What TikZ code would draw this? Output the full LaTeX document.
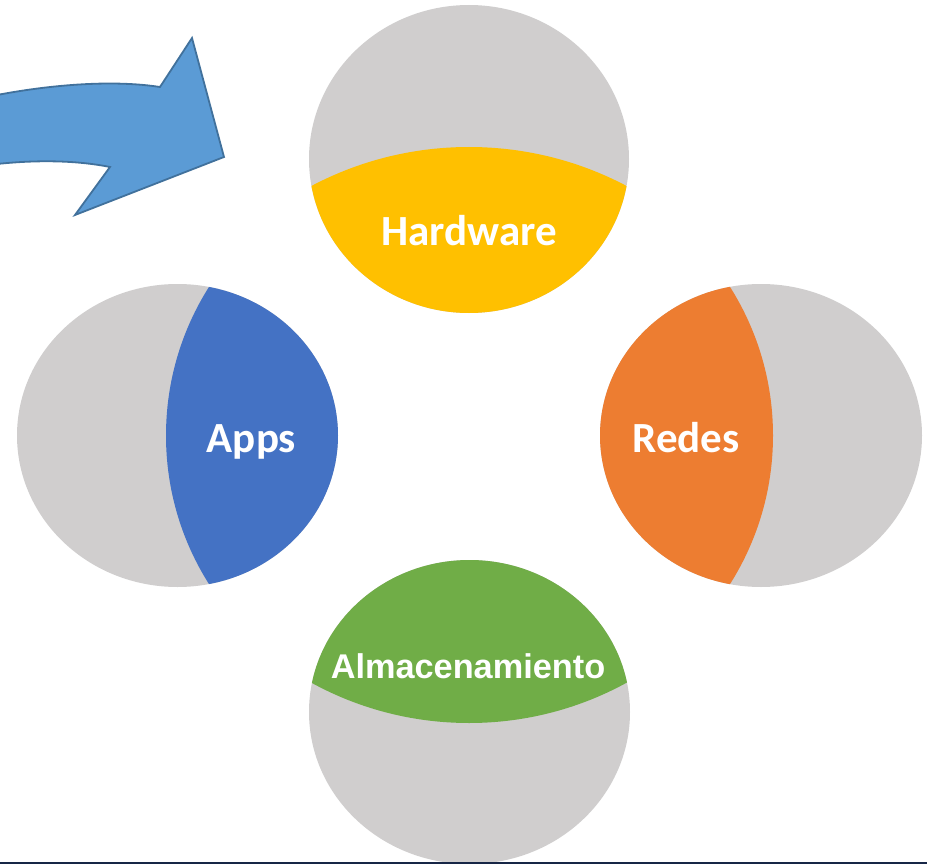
\documentclass[tikz,border=0pt]{standalone}
\usepackage{fontspec}
\newfontfamily\carlito{Carlito}
\newfontfamily\arialfont{Liberation Sans}
\definecolor{cgray}{HTML}{D0CECE}
\definecolor{cyellow}{HTML}{FFC000}
\definecolor{cblue}{HTML}{4472C4}
\definecolor{corange}{HTML}{ED7D31}
\definecolor{cgreen}{HTML}{70AD47}
\definecolor{carrow}{HTML}{5B9BD5}
\definecolor{carrowline}{HTML}{41719C}
\definecolor{cnavy}{HTML}{172646}
\tikzset{
  label/.style={text=white, inner sep=0pt, anchor=base},
  calibrilabel/.style={label, font=\carlito\bfseries\fontsize{43}{50}\selectfont},
  ariallabel/.style={label, font=\arialfont\bfseries\fontsize{34.3}{40}\selectfont},
  bigarrow/.style={fill=carrow, draw=carrowline, line width=1.8pt, line join=miter},
  disc/.style={fill=cgray}
}
\begin{document}
\begin{tikzpicture}[x=1pt,y=-1pt]
\useasboundingbox (0,0) rectangle (927,864);
% top circle (Hardware)
\fill[disc] (469,159) ellipse [x radius=160pt, y radius=154pt];
\begin{scope}
  \clip (469,159) ellipse [x radius=160pt, y radius=154pt];
  \fill[cyellow] (469,484.5) circle [radius=337.5pt];
\end{scope}
% left circle (Apps)
\fill[disc] (177.5,435.5) ellipse [x radius=160.5pt, y radius=151.5pt];
\begin{scope}
  \clip (177.5,435.5) ellipse [x radius=160.5pt, y radius=151.5pt];
  \fill[cblue] (444,435.5) circle [radius=278pt];
\end{scope}
% right circle (Redes)
\fill[disc] (761,435.5) ellipse [x radius=161pt, y radius=151.5pt];
\begin{scope}
  \clip (761,435.5) ellipse [x radius=161pt, y radius=151.5pt];
  \fill[corange] (495,435.5) circle [radius=278pt];
\end{scope}
% bottom circle (Almacenamiento)
\fill[disc] (469.5,712) ellipse [x radius=160.5pt, y radius=152pt];
\begin{scope}
  \clip (469.5,712) ellipse [x radius=160.5pt, y radius=152pt];
  \fill[cgreen] (469,395) circle [radius=328pt];
\end{scope}
% labels
\node[calibrilabel] (hw) at (469,245) {Hardware};
\node[calibrilabel] (apps) at (251.5,452) {Apps};
\node[calibrilabel] (redes) at (686,452) {Redes};
\node[ariallabel] (alm) at (468,678) {Almacenamiento};
% curved arrow
\draw[bigarrow] (-3,95) .. controls (55,84) and (115,80) .. (160,87)
  -- (192,38) -- (224,157) -- (75,215) -- (110,167)
  .. controls (75,160) and (35,160) .. (-3,164) -- cycle;
% bottom rule
\fill[cnavy] (0,861.5) rectangle (927,864);
\end{tikzpicture}
\end{document}
